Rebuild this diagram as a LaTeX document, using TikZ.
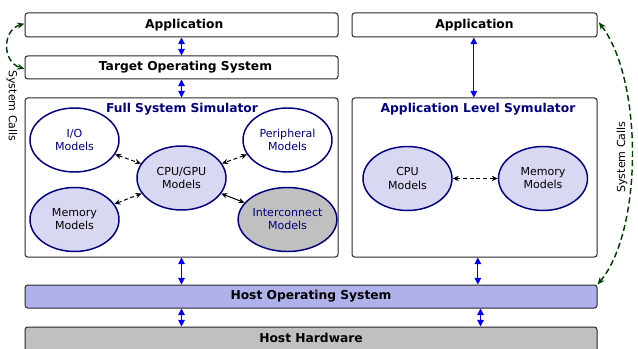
\documentclass[tikz,border=0pt]{standalone}
\usepackage{fontspec}
\setmainfont{DejaVu Sans}
\usetikzlibrary{arrows.meta,shapes.geometric,fit}

\definecolor{navy}{RGB}{0,0,128}
\definecolor{lav}{RGB}{216,216,242}
\definecolor{hostos}{RGB}{176,176,234}
\definecolor{hw}{RGB}{192,192,192}
\definecolor{dgreen}{RGB}{0,64,0}
\definecolor{edge}{RGB}{40,40,40}

\tikzset{
  layer/.style={draw=edge, line width=0.75pt, rounded corners=2pt, inner sep=0pt},
  layertext/.style={font=\fontsize{9.2}{11}\selectfont\bfseries, inner sep=0pt},
  title/.style={font=\fontsize{9.2}{11}\selectfont\bfseries, text=navy, inner sep=0pt},
  model/.style={ellipse, draw=navy, line width=1.1pt, fill=lav,
    minimum width=66.75pt, minimum height=48pt, inner sep=0pt, align=center,
    font=\fontsize{8.3}{9.8}\selectfont},
  blink/.style={blue, line width=0.8pt, {Triangle[length=5pt,width=5pt]}-{Triangle[length=5pt,width=5pt]}},
  mlink/.style={black, line width=0.75pt, {Stealth[length=4.5pt,width=4pt]}-{Stealth[length=4.5pt,width=4pt]}},
  mdash/.style={dash pattern=on 3pt off 2pt},
  sysc/.style={dgreen, line width=1.1pt, dash pattern=on 4.5pt off 2.5pt,
    {Stealth[length=5.5pt,width=4.5pt]}-{Stealth[length=5.5pt,width=4.5pt]}},
  vlabel/.style={font=\fontsize{8.3}{9}\selectfont, inner sep=0pt}
}

\begin{document}
\begin{tikzpicture}[x=0.75pt, y=-0.75pt]
\useasboundingbox (0,0) rectangle (638,349);
\clip (0,0) rectangle (638,349);

% left stack
\node[layer, fit={(25,13) (338,37)}] (app1) {};
\node[layertext] (app1t) at ([xshift=2]app1.center) {Application};
\node[layer, fit={(25,56) (338,79)}] (tos) {};
\node[layertext] (tost) at ([xshift=3]tos.center) {Target Operating System};
\node[layer, fit={(25,98) (338,257)}] (fss) {};
\node[title] (fsst) at (182,109) {Full System Simulator};

% right stack
\node[layer, fit={(352,13) (597,37)}] (app2) {};
\node[layertext] (app2t) at (app2.center) {Application};
\node[layer, fit={(352,98) (597,257)}] (als) {};
\node[title] (alst) at (478,109) {Application Level Symulator};

% host layers
\node[layer, fill=hostos, fit={(25,285) (597,308)}] (hos) {};
\node[layertext] (host) at (hos.center) {Host Operating System};
\node[layer, fill=hw, fit={(25,327) (597,360)}] (hhw) {};
\node[layertext] (hhwt) at (311,338) {Host Hardware};

% models of the full system simulator
\node[model, fill=white, text=navy] (io) at (74.5,140) {I/O\\Models};
\node[model, fill=white, text=navy] (per) at (287.5,140) {Peripheral\\Models};
\node[model] (cpu) at (181.5,178) {CPU/GPU\\Models};
\node[model] (mem) at (74.5,219.5) {Memory\\Models};
\node[model, fill=hw, text=navy] (ic) at (287.5,219.5) {Interconnect\\Models};

% models of the application level simulator
\node[model] (cpu2) at (407.5,178.5) {CPU\\Models};
\node[model] (mem2) at (543,178.5) {Memory\\Models};

% model links
\draw[mlink, mdash] (io) -- (cpu);
\draw[mlink, mdash] (per) -- (cpu);
\draw[mlink, mdash] (mem) -- (cpu);
\draw[mlink] (ic) -- (cpu);
\draw[mlink, mdash] (cpu2) -- (mem2);

% layer links
\draw[blink] (app1.south) -- (tos.north);
\draw[blink] (tos.south) -- (fss.north);
\draw[blink] (fss.south) -- (fss.south |- hos.north);
\draw[blink] (fss.south |- hos.south) -- (fss.south |- hhw.north);
\draw[blink] ([xshift=-0.5]app2.south) -- ([xshift=-0.5]als.north);
\draw[blink] ([xshift=2.5]als.south) -- ([xshift=2.5]als.south |- hos.north);
\draw[blink] ([xshift=4.5]als.south |- hos.south) -- ([xshift=4.5]als.south |- hhw.north);

% system calls
\draw[sysc] ([yshift=1]app1.west) .. controls (2,30) and (2,62) .. ([yshift=-1]tos.west);
\node[vlabel, rotate=-90] (scl) at (12,106) {System Calls};
\draw[sysc] ([xshift=1,yshift=2]app2.east) .. controls (643,80) and (643,230) .. (hos.north east);
\node[vlabel, rotate=90] (scr) at (622,157) {System Calls};
\end{tikzpicture}
\end{document}
